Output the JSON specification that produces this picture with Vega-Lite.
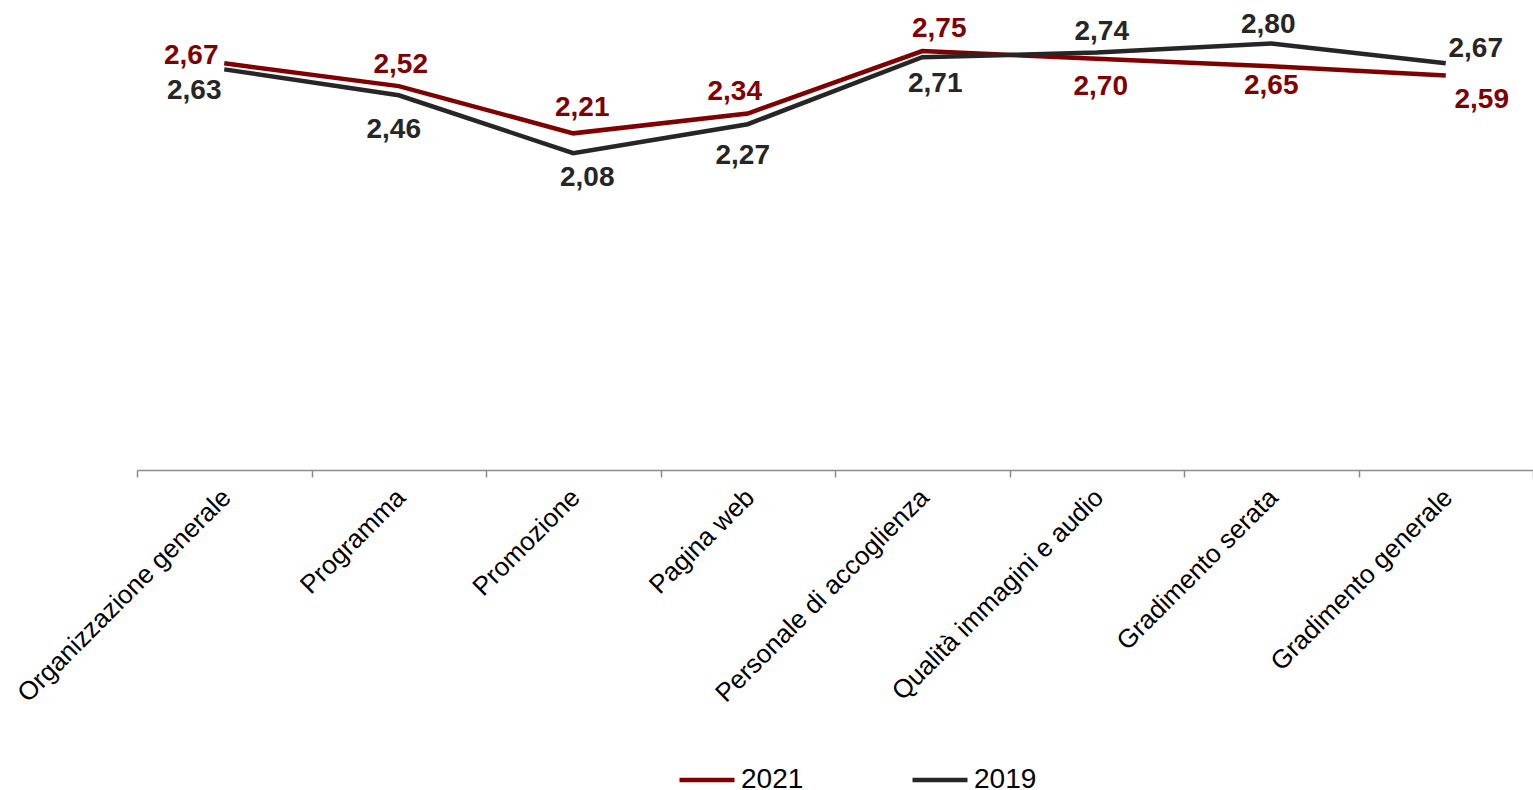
{
  "$schema": "https://vega.github.io/schema/vega-lite/v6.json",
  "width": 1396,
  "height": 457,
  "autosize": {"type": "none"},
  "padding": {"left": 137, "top": 13, "right": 0, "bottom": 320},
  "background": "white",
  "config": {
    "view": {"stroke": null},
    "font": "Liberation Sans",
    "locale": {"number": {"decimal": ",", "thousands": ".", "grouping": [3], "currency": ["", " €"]}}
  },
  "data": {
    "values": [
      {"category": "Organizzazione generale", "year": "2021", "value": 2.67},
      {"category": "Programma", "year": "2021", "value": 2.52},
      {"category": "Promozione", "year": "2021", "value": 2.21},
      {"category": "Pagina web", "year": "2021", "value": 2.34},
      {"category": "Personale di accoglienza", "year": "2021", "value": 2.75},
      {"category": "Qualità immagini e audio", "year": "2021", "value": 2.70},
      {"category": "Gradimento serata", "year": "2021", "value": 2.65},
      {"category": "Gradimento generale", "year": "2021", "value": 2.59},
      {"category": "Organizzazione generale", "year": "2019", "value": 2.63},
      {"category": "Programma", "year": "2019", "value": 2.46},
      {"category": "Promozione", "year": "2019", "value": 2.08},
      {"category": "Pagina web", "year": "2019", "value": 2.27},
      {"category": "Personale di accoglienza", "year": "2019", "value": 2.71},
      {"category": "Qualità immagini e audio", "year": "2019", "value": 2.74},
      {"category": "Gradimento serata", "year": "2019", "value": 2.80},
      {"category": "Gradimento generale", "year": "2019", "value": 2.67}
    ]
  },
  "encoding": {
    "x": {
      "field": "category",
      "type": "nominal",
      "sort": ["Organizzazione generale", "Programma", "Promozione", "Pagina web", "Personale di accoglienza", "Qualità immagini e audio", "Gradimento serata", "Gradimento generale"],
      "bandPosition": 0.5,
      "scale": {"type": "band", "paddingInner": 0, "paddingOuter": 0},
      "axis": {
        "title": null,
        "tickBand": "extent",
        "labelAngle": -45,
        "labelAlign": "right",
        "labelBaseline": "middle",
        "labelFontSize": 26,
        "labelColor": "#000000",
        "labelPadding": 16,
        "labelOffset": 2,
        "labelLimit": 500,
        "labelOverlap": false,
        "labelBound": false,
        "domainColor": "#8c8c8c",
        "domainWidth": 1.5,
        "tickColor": "#8c8c8c",
        "tickWidth": 1.5,
        "tickSize": 7,
        "grid": false
      }
    },
    "y": {"field": "value", "type": "quantitative", "scale": {"domain": [0, 3]}, "axis": null}
  },
  "layer": [
    {
      "mark": {"type": "line", "strokeWidth": 4.5},
      "encoding": {
        "color": {
          "field": "year",
          "type": "nominal",
          "scale": {"domain": ["2021", "2019"], "range": ["#800000", "#262626"]},
          "legend": {
            "orient": "none",
            "legendX": 540,
            "legendY": 737,
            "direction": "horizontal",
            "title": null,
            "padding": 0,
            "symbolType": "stroke",
            "symbolSize": 3025,
            "symbolStrokeWidth": 4.5,
            "labelFontSize": 28,
            "labelColor": "#000000",
            "labelOffset": 4,
            "columnPadding": 99
          }
        }
      }
    },
    {"transform": [{"filter": "datum.year == '2021' && datum.category == 'Organizzazione generale'"}], "mark": {"type": "text", "dx": -33, "dy": -7, "fontSize": 28, "fontWeight": "bold", "color": "#800000", "baseline": "middle"}, "encoding": {"text": {"field": "value", "type": "quantitative", "format": ".2f"}}},
    {"transform": [{"filter": "datum.year == '2021' && datum.category == 'Programma'"}], "mark": {"type": "text", "dx": 2, "dy": -21, "fontSize": 28, "fontWeight": "bold", "color": "#800000", "baseline": "middle"}, "encoding": {"text": {"field": "value", "type": "quantitative", "format": ".2f"}}},
    {"transform": [{"filter": "datum.year == '2021' && datum.category == 'Promozione'"}], "mark": {"type": "text", "dx": 9, "dy": -25, "fontSize": 28, "fontWeight": "bold", "color": "#800000", "baseline": "middle"}, "encoding": {"text": {"field": "value", "type": "quantitative", "format": ".2f"}}},
    {"transform": [{"filter": "datum.year == '2021' && datum.category == 'Pagina web'"}], "mark": {"type": "text", "dx": -13, "dy": -22, "fontSize": 28, "fontWeight": "bold", "color": "#800000", "baseline": "middle"}, "encoding": {"text": {"field": "value", "type": "quantitative", "format": ".2f"}}},
    {"transform": [{"filter": "datum.year == '2021' && datum.category == 'Personale di accoglienza'"}], "mark": {"type": "text", "dx": 17, "dy": -22, "fontSize": 28, "fontWeight": "bold", "color": "#800000", "baseline": "middle"}, "encoding": {"text": {"field": "value", "type": "quantitative", "format": ".2f"}}},
    {"transform": [{"filter": "datum.year == '2021' && datum.category == 'Qualità immagini e audio'"}], "mark": {"type": "text", "dx": 4, "dy": 28, "fontSize": 28, "fontWeight": "bold", "color": "#800000", "baseline": "middle"}, "encoding": {"text": {"field": "value", "type": "quantitative", "format": ".2f"}}},
    {"transform": [{"filter": "datum.year == '2021' && datum.category == 'Gradimento serata'"}], "mark": {"type": "text", "dx": 0, "dy": 20, "fontSize": 28, "fontWeight": "bold", "color": "#800000", "baseline": "middle"}, "encoding": {"text": {"field": "value", "type": "quantitative", "format": ".2f"}}},
    {"transform": [{"filter": "datum.year == '2021' && datum.category == 'Gradimento generale'"}], "mark": {"type": "text", "dx": 36, "dy": 25, "fontSize": 28, "fontWeight": "bold", "color": "#800000", "baseline": "middle"}, "encoding": {"text": {"field": "value", "type": "quantitative", "format": ".2f"}}},
    {"transform": [{"filter": "datum.year == '2019' && datum.category == 'Organizzazione generale'"}], "mark": {"type": "text", "dx": -30, "dy": 22, "fontSize": 28, "fontWeight": "bold", "color": "#262626", "baseline": "middle"}, "encoding": {"text": {"field": "value", "type": "quantitative", "format": ".2f"}}},
    {"transform": [{"filter": "datum.year == '2019' && datum.category == 'Programma'"}], "mark": {"type": "text", "dx": -5, "dy": 35, "fontSize": 28, "fontWeight": "bold", "color": "#262626", "baseline": "middle"}, "encoding": {"text": {"field": "value", "type": "quantitative", "format": ".2f"}}},
    {"transform": [{"filter": "datum.year == '2019' && datum.category == 'Promozione'"}], "mark": {"type": "text", "dx": 14, "dy": 25, "fontSize": 28, "fontWeight": "bold", "color": "#262626", "baseline": "middle"}, "encoding": {"text": {"field": "value", "type": "quantitative", "format": ".2f"}}},
    {"transform": [{"filter": "datum.year == '2019' && datum.category == 'Pagina web'"}], "mark": {"type": "text", "dx": -5, "dy": 32, "fontSize": 28, "fontWeight": "bold", "color": "#262626", "baseline": "middle"}, "encoding": {"text": {"field": "value", "type": "quantitative", "format": ".2f"}}},
    {"transform": [{"filter": "datum.year == '2019' && datum.category == 'Personale di accoglienza'"}], "mark": {"type": "text", "dx": 13, "dy": 27, "fontSize": 28, "fontWeight": "bold", "color": "#262626", "baseline": "middle"}, "encoding": {"text": {"field": "value", "type": "quantitative", "format": ".2f"}}},
    {"transform": [{"filter": "datum.year == '2019' && datum.category == 'Qualità immagini e audio'"}], "mark": {"type": "text", "dx": 5, "dy": -21, "fontSize": 28, "fontWeight": "bold", "color": "#262626", "baseline": "middle"}, "encoding": {"text": {"field": "value", "type": "quantitative", "format": ".2f"}}},
    {"transform": [{"filter": "datum.year == '2019' && datum.category == 'Gradimento serata'"}], "mark": {"type": "text", "dx": -3, "dy": -18, "fontSize": 28, "fontWeight": "bold", "color": "#262626", "baseline": "middle"}, "encoding": {"text": {"field": "value", "type": "quantitative", "format": ".2f"}}},
    {"transform": [{"filter": "datum.year == '2019' && datum.category == 'Gradimento generale'"}], "mark": {"type": "text", "dx": 30, "dy": -14, "fontSize": 28, "fontWeight": "bold", "color": "#262626", "baseline": "middle"}, "encoding": {"text": {"field": "value", "type": "quantitative", "format": ".2f"}}}
  ]
}
